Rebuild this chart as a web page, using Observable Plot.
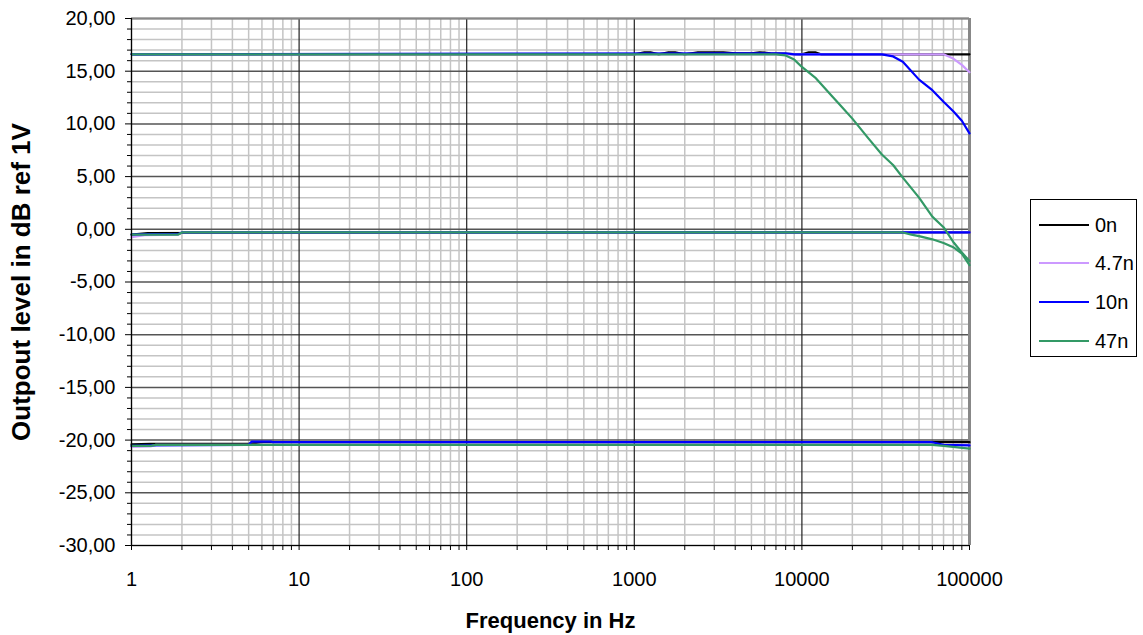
<!DOCTYPE html>
<html>
<head>
<meta charset="utf-8">
<script src="https://cdn.jsdelivr.net/npm/d3@7"></script>
<script src="https://cdn.jsdelivr.net/npm/@observablehq/plot@0.6"></script>
<style>
  html, body { margin: 0; padding: 0; background: #fff; }
  #wrap { position: relative; width: 1143px; height: 635px; font-family: "Liberation Sans", Arial, sans-serif; }
  #legend { position: absolute; left: 1030px; top: 199px; width: 107px; height: 158px; border: 1px solid #000; background: #fff; box-sizing: border-box; }
  .item { position: absolute; left: 8px; height: 20px; display: flex; align-items: center; font-size: 20px; color: #000; }
  .item .sw { width: 50px; height: 0; margin-right: 6px; }
</style>
</head>
<body>
<div id="wrap"><div id="legend"></div></div>
<script>
// ---- series names & colours ----
const seriesNames = ["0n", "4.7n", "10n", "47n"];
const seriesColors = ["#000000", "#cc99ff", "#0000ff", "#339966"];

// ---- tick values ----
const xMajorTicks = [1, 10, 100, 1000, 10000, 100000];
const yMajorTicks = [20, 15, 10, 5, 0, -5, -10, -15, -20, -25, -30];

// ---- high gain group (~16.6 dB) ----
const hi0nF  = [1, 1000, 1150, 1250, 1400, 1600, 1750, 2000, 2400, 3400, 4000, 5000, 5600, 6500, 10000, 11000, 12000, 13000, 100000];
const hi0nV  = [16.6, 16.6, 16.8, 16.8, 16.6, 16.8, 16.8, 16.6, 16.8, 16.8, 16.7, 16.7, 16.8, 16.7, 16.6, 16.8, 16.8, 16.6, 16.6];
const hi47F  = [1, 70000, 80000, 90000, 100000];
const hi47V  = [16.6, 16.6, 16.2, 15.6, 14.9];
const hi10F  = [1, 3500, 8000, 9000, 30000, 35000, 40000, 50000, 60000, 70000, 80000, 90000, 100000];
const hi10V  = [16.6, 16.7, 16.7, 16.6, 16.6, 16.4, 15.9, 14.2, 13.2, 12.1, 11.2, 10.3, 9.1];
const hi470F = [1, 7000, 8000, 9000, 10000, 12000, 15000, 17000, 20000, 25000, 30000, 35000, 40000, 50000, 60000, 70000, 80000, 90000, 100000];
const hi470V = [16.6, 16.6, 16.5, 16.1, 15.4, 14.4, 12.7, 11.75, 10.5, 8.6, 7.1, 6.1, 4.9, 3.0, 1.2, 0.2, -1.2, -2.2, -3.0];

// ---- unity group (~-0.3 dB) ----
const mid0nF  = [1, 1.25, 100000];
const mid0nV  = [-0.5, -0.35, -0.3];
const mid47F  = [1, 1.2, 1.9, 2, 100000];
const mid47V  = [-0.75, -0.55, -0.5, -0.3, -0.3];
const mid10F  = [1, 1.3, 1.9, 2, 100000];
const mid10V  = [-0.5, -0.45, -0.45, -0.3, -0.3];
const mid470F = [1, 1.9, 2, 40000, 45000, 50000, 60000, 70000, 80000, 90000, 100000];
const mid470V = [-0.5, -0.5, -0.3, -0.3, -0.5, -0.65, -0.95, -1.3, -1.7, -2.3, -3.4];

// ---- attenuated group (~-20.3 dB) ----
const lo0nF  = [1, 1.3, 5, 6, 100000];
const lo0nV  = [-20.4, -20.35, -20.35, -20.2, -20.2];
const lo47F  = [1, 1.3, 1.4, 100000];
const lo47V  = [-20.65, -20.6, -20.45, -20.45];
const lo10F  = [1, 1.3, 5, 5.2, 6.8, 7, 60000, 70000, 100000];
const lo10V  = [-20.55, -20.5, -20.45, -20.15, -20.15, -20.2, -20.2, -20.45, -20.5];
const lo470F = [1, 1.3, 1.4, 60000, 70000, 100000];
const lo470V = [-20.55, -20.55, -20.45, -20.45, -20.55, -20.8];

function rows(s, g, F, V) { return F.map((f, i) => ({f, v: V[i], s, g})); }
const data = {
  "0n":   [...rows("0n", "hi", hi0nF, hi0nV), ...rows("0n", "mid", mid0nF, mid0nV), ...rows("0n", "lo", lo0nF, lo0nV)],
  "4.7n": [...rows("4.7n", "hi", hi47F, hi47V), ...rows("4.7n", "mid", mid47F, mid47V), ...rows("4.7n", "lo", lo47F, lo47V)],
  "10n":  [...rows("10n", "hi", hi10F, hi10V), ...rows("10n", "mid", mid10F, mid10V), ...rows("10n", "lo", lo10F, lo10V)],
  "47n":  [...rows("47n", "hi", hi470F, hi470V), ...rows("47n", "mid", mid470F, mid470V), ...rows("47n", "lo", lo470F, lo470V)]
};

const xMinor = [];
for (let d = 1; d < 100000; d *= 10) for (let k = 2; k <= 9; k++) xMinor.push(d * k);
const yMinor = d3.range(-30, 21, 1).filter(v => v % 5 !== 0);

const fmt = d => d.toFixed(2).replace(".", ",");
const none = () => "";

const chart = Plot.plot({
  width: 1143,
  height: 635,
  marginLeft: 131,
  marginRight: 174,
  marginTop: 18,
  marginBottom: 90,
  style: {fontFamily: "'Liberation Sans', Arial, sans-serif", fontSize: "20px", color: "#000", background: "#fff"},
  x: {type: "log", domain: [1, 100000]},
  y: {domain: [-30, 20]},
  marks: [
    Plot.ruleY(yMinor, {stroke: "#c4c4c4", strokeWidth: 1.5}),
    Plot.ruleX(xMinor, {stroke: "#c4c4c4", strokeWidth: 1.5}),
    Plot.ruleY(yMajorTicks, {stroke: "#555", strokeWidth: 1.5}),
    Plot.ruleX(xMajorTicks, {stroke: "#222", strokeWidth: 1.2}),
    Plot.ruleY([20], {stroke: "#888", strokeWidth: 2}),
    Plot.ruleX([100000], {stroke: "#888", strokeWidth: 3}),
    ...seriesNames.map((s, i) => Plot.line(data[s], {x: "f", y: "v", z: "g", stroke: seriesColors[i], strokeWidth: 2.2})),
    Plot.ruleX([1], {stroke: "#000", strokeWidth: 1.2}),
    Plot.ruleY([-30], {stroke: "#000", strokeWidth: 1.2}),
    Plot.axisX({ticks: xMinor, tickSize: 5, tickFormat: none, label: null, stroke: "#000"}),
    Plot.axisX({ticks: xMajorTicks, tickSize: 5, tickPadding: 21, tickFormat: d => String(d), fontSize: 20,
      label: "Frequency in Hz", labelAnchor: "center", labelArrow: "none", labelOffset: 82}),
    Plot.axisY({ticks: yMinor, tickSize: 4, tickFormat: none, label: null, stroke: "#000"}),
    Plot.axisY({ticks: yMajorTicks, tickSize: 6, tickPadding: 10, tickFormat: fmt, fontSize: 20,
      label: "Outpout level in dB ref 1V", labelAnchor: "center", labelArrow: "none", labelOffset: 120})
  ]
});
// bold axis titles
chart.querySelectorAll("g[aria-label='x-axis label'] text").forEach(t => {
  t.setAttribute("font-weight", "bold");
  t.setAttribute("font-size", "22");
});
chart.querySelectorAll("g[aria-label='y-axis label'] text").forEach(t => {
  t.setAttribute("font-weight", "bold");
  t.setAttribute("font-size", "26");
});
document.getElementById("wrap").prepend(chart);

// legend
const leg = document.getElementById("legend");
const rowY = [15, 53, 92, 131];
seriesNames.forEach((s, i) => {
  const it = document.createElement("div");
  it.className = "item";
  it.style.top = rowY[i] + "px";
  const sw = document.createElement("span");
  sw.className = "sw";
  sw.style.borderTop = "2.5px solid " + seriesColors[i];
  const tx = document.createElement("span");
  tx.textContent = s;
  it.append(sw, tx);
  leg.append(it);
});
</script>
</body>
</html>
